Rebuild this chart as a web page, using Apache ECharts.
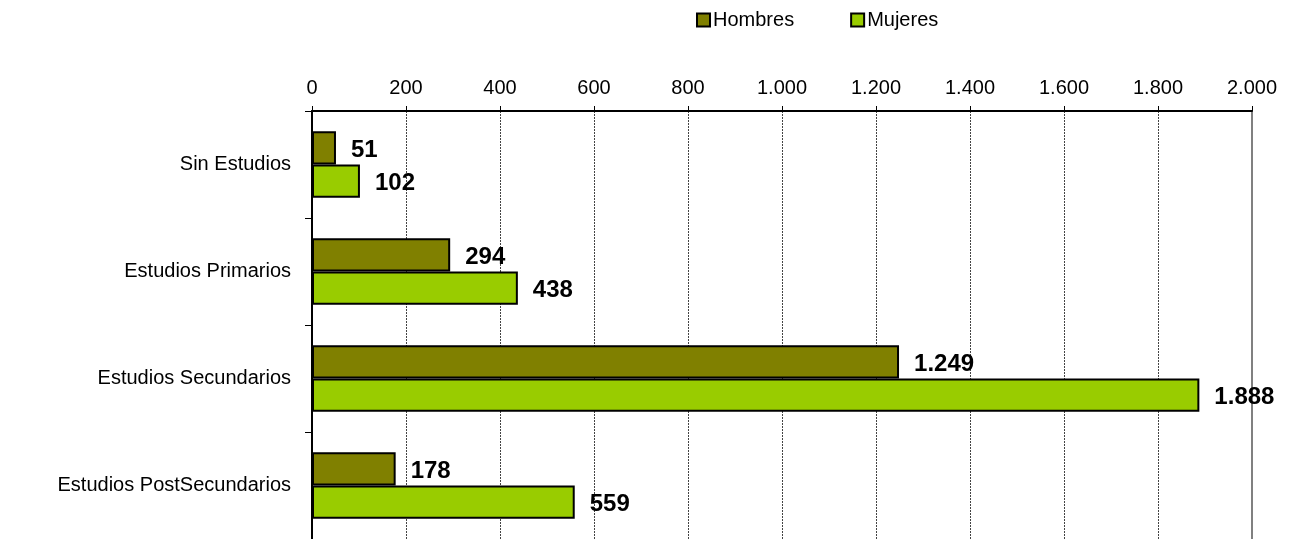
<!DOCTYPE html>
<html><head><meta charset="utf-8">
<script src="https://cdn.jsdelivr.net/npm/echarts@6/dist/echarts.min.js"></script>
<style>html,body{margin:0;padding:0;background:#fff}#c{width:1291px;height:539px}</style>
</head><body><div id="c"></div>
<script>
var categories = ["Sin Estudios", "Estudios Primarios", "Estudios Secundarios", "Estudios PostSecundarios"];
var hombres = [51, 294, 1249, 178];
var mujeres = [102, 438, 1888, 559];
var seriesNames = ["Hombres", "Mujeres"];
var xTicks = [0, 200, 400, 600, 800, 1000, 1200, 1400, 1600, 1800, 2000];

function fmt(v) {
  return String(v).replace(/\B(?=(\d{3})+(?!\d))/g, ".");
}
var FONT = "Liberation Sans, Arial, sans-serif";
var chart = echarts.init(document.getElementById('c'), null, {renderer: 'canvas'});
var labelCfg = {
  show: true, position: 'right', distance: 15, offset: [0, 2],
  fontFamily: FONT, fontSize: 24, fontWeight: 'bold', color: '#000',
  formatter: function (p) { return fmt(p.value); }
};
chart.setOption({
  animation: false,
  legend: {
    top: 5, left: 691, itemWidth: 13, itemHeight: 13, itemGap: 56, icon: 'rect',
    textStyle: {fontFamily: FONT, fontSize: 20, color: '#000', padding: [0,0,0,-2]},
    data: seriesNames
  },
  grid: {left: 312, right: 39, top: 111, height: 429},
  xAxis: {
    type: 'value', position: 'top', min: xTicks[0], max: xTicks[xTicks.length - 1], interval: 200,
    axisLine: {show: true, lineStyle: {color: '#000', width: 2}},
    axisTick: {show: true, length: 5, lineStyle: {color: '#000'}},
    axisLabel: {fontFamily: FONT, fontSize: 20, color: '#000', margin: 13, formatter: fmt},
    splitLine: {show: true, lineStyle: {color: '#444', type: [2, 1], width: 1}}
  },
  yAxis: [{
    type: 'category', data: categories, inverse: true,
    axisLine: {show: true, lineStyle: {color: '#000', width: 2}},
    axisTick: {show: true, length: 7, lineStyle: {color: '#000'}},
    axisLabel: {fontFamily: FONT, fontSize: 20, color: '#000', margin: 21}
  }, {
    type: 'category', data: categories, inverse: true, position: 'right',
    axisLine: {show: true, lineStyle: {color: '#808080', width: 2}},
    axisTick: {show: false}, axisLabel: {show: false}
  }],
  series: [{
    name: seriesNames[0], type: 'bar', data: hombres, barGap: '0%', barCategoryGap: '38%',
    itemStyle: {color: '#808000', borderColor: '#000', borderWidth: 2},
    label: labelCfg
  }, {
    name: seriesNames[1], type: 'bar', data: mujeres,
    itemStyle: {color: '#99CC00', borderColor: '#000', borderWidth: 2},
    label: labelCfg
  }]
});
</script></body></html>
